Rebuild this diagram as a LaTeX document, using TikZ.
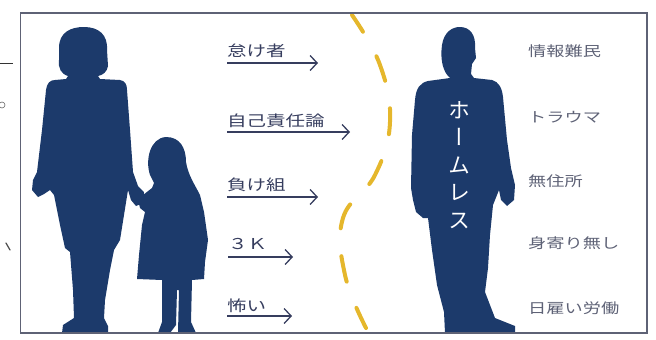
\documentclass[tikz,border=0pt]{standalone}
\usepackage{fontspec}
\newfontfamily\jp{Noto Sans CJK JP}
\newfontfamily\hand[FakeStretch=1.3]{Noto Sans CJK JP}
\newfontfamily\jpvert[RawFeature=+vert]{Noto Sans CJK JP}
\usetikzlibrary{positioning,arrows.meta}
\definecolor{navy}{HTML}{1C3A6B}
\definecolor{framegray}{HTML}{5E6275}
\definecolor{brush}{HTML}{E5B72C}
\definecolor{ink}{HTML}{363D5E}
\definecolor{grayink}{HTML}{5E6276}

\begin{document}
\begin{tikzpicture}[x=1pt,y=-1pt,>={Straight Barb[length=7pt,width=15pt]},
    lefttag/.style={anchor=south west,inner sep=0pt,font=\hand\fontsize{15}{15}\selectfont,text=ink},
    righttag/.style={anchor=west,inner sep=0pt,font=\hand\fontsize{14}{14}\selectfont,text=grayink},
    stereo/.style={->,draw=ink,line width=1.3pt},
    figure/.style={fill=navy,draw=none}]
        \useasboundingbox (0,0) rectangle (656,340);

        % bits of the neighbouring text column
        \draw[black!80,line width=1pt] (0,63) -- (13,63);
        \draw[black!60,line width=0.6pt] (2,105) circle (3);
        \draw[black!70,line width=1.2pt,line cap=round] (6,243) -- (10,250);

        % mother
        \fill[figure] (59,48) .. controls (59,32) and (71,27) .. (84,27)
            .. controls (99,27) and (108,35) .. (107,50) -- (108,66)
            .. controls (107,72) and (103,75) .. (98,76) -- (100,79) -- (120,80)
            .. controls (125,81) and (127,84) .. (127,90)
            -- (130,130) -- (133,172) -- (138,186) -- (144,192) -- (143,203)
            -- (136,206) -- (131,200) -- (128,190)
            -- (124,215) -- (120,240) -- (114,250)
            -- (110,270) -- (105,300) -- (104,318) -- (108,326) -- (108,333)
            -- (62,333) -- (63,325) -- (74,318) -- (73,290) -- (70,252)
            -- (65,248) -- (60,225) -- (54,195) -- (50,190)
            -- (44,194) -- (38,197) -- (32,190) -- (33,180) -- (37,172)
            -- (42,130) -- (46,90) .. controls (47,83) and (50,80) .. (55,80)
            -- (66,79) -- (68,76) .. controls (61,74) and (58,68) .. (59,60) -- cycle;

        % child
        \fill[figure] (150,175) .. controls (145,160) and (150,138) .. (166,137)
            .. controls (180,137) and (186,148) .. (186,162)
            .. controls (188,175) and (195,185) .. (200,195)
            -- (204,212) -- (208,240) -- (205,262) -- (204,279)
            -- (192,280) -- (191,322) -- (196,333) -- (178,333) -- (179,290)
            -- (177,290) -- (176,325) -- (170,333) -- (158,333) -- (162,322) -- (162,280)
            -- (137,279) -- (139,255) -- (142,225)
            -- (145,212) -- (140,208) -- (138,200)
            -- (143,195) -- (152,188) -- (154,183) -- cycle;

        % man
        \fill[figure] (450,78) .. controls (443,72) and (440,60) .. (442,45)
            .. controls (444,32) and (452,27) .. (460,27)
            .. controls (470,27) and (476,35) .. (475,48)
            -- (476,58) -- (472,64) -- (471,74) -- (474,78)
            -- (492,80) .. controls (499,82) and (502,88) .. (503,97)
            -- (507,140) -- (511,168) -- (515,185) -- (514,200) -- (507,206)
            -- (501,200) -- (499,190)
            -- (493,205) -- (490,235) -- (488,268) -- (485,292) -- (495,318)
            -- (515,326) -- (515,333)
            -- (445,333) -- (444,312) -- (437,285) -- (432,250) -- (428,218)
            -- (423,218) -- (416,212) -- (413,200) -- (411,188)
            -- (412,135) -- (415,100) .. controls (416,88) and (420,83) .. (428,81) -- cycle;
        \node[text=white,align=center,inner sep=0pt,
              font=\jpvert\fontsize{22}{27.5}\selectfont] (homeless) at (459,165)
              {ホ\\ー\\ム\\レ\\ス};

        % dashed brush line between the two sides
        \draw[brush,line width=4pt,line cap=round,dash pattern=on 26pt off 28pt,dash phase=6pt]
            plot[smooth,tension=0.7] coordinates {(352,15) (380,65) (390,122) (375,175) (343,218) (345,275) (366,328)};

        % labels on the left with their arrows
        \node[lefttag] (lazy) at (227,58) {怠け者};
        \node[lefttag] (selfresp) at (227,128) {自己責任論};
        \node[lefttag] (losers) at (227,192) {負け組};
        \node[lefttag] (threek) at (228,250) {３Ｋ};
        \node[lefttag] (scary) at (227,313) {怖い};
        \coordinate (lazyend) at (318,63);
        \coordinate (selfrespend) at (350,132);
        \coordinate (losersend) at (318,197);
        \coordinate (threekend) at (293,257);
        \coordinate (scaryend) at (292,316);
        \draw[stereo] (lazy.south west |- lazyend) -- (lazyend);
        \draw[stereo] (selfresp.south west |- selfrespend) -- (selfrespend);
        \draw[stereo] (losers.south west |- losersend) -- (losersend);
        \draw[stereo] (threek.south west |- threekend) -- (threekend);
        \draw[stereo] (scary.south west |- scaryend) -- (scaryend);

        % labels on the right
        \node[righttag] (info) at (528,51) {情報難民};
        \node[righttag] (trauma) at (528,117) {トラウマ};
        \node[righttag] (noaddr) at (528,181) {無住所};
        \node[righttag] (alone) at (528,243) {身寄り無し};
        \node[righttag] (daylab) at (528,308) {日雇い労働};

        % frame
        \draw[framegray,line width=1.5pt] (20.5,13) rectangle (647,333);
    \end{tikzpicture}
\end{document}
